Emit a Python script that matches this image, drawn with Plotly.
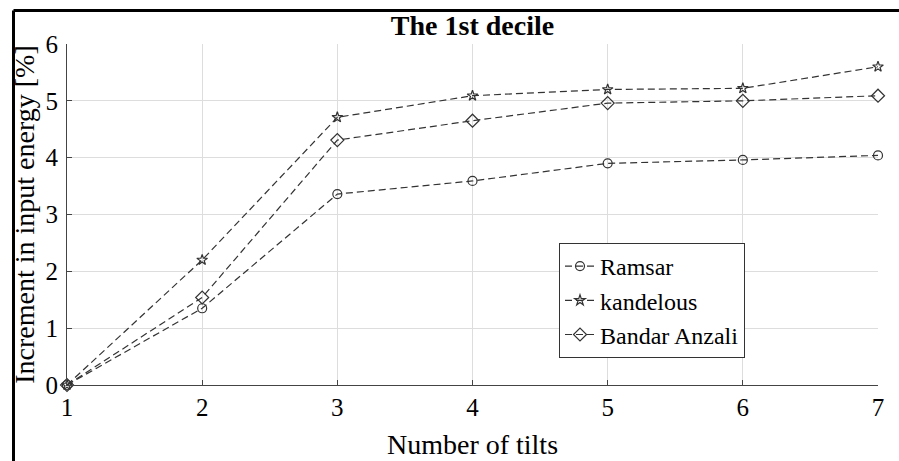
import plotly.graph_objects as go

tilts = [1, 2, 3, 4, 5, 6, 7]
ramsar = [0, 1.35, 3.36, 3.59, 3.90, 3.96, 4.04]
kandelous = [0, 2.20, 4.71, 5.09, 5.20, 5.22, 5.60]
bandar_anzali = [0, 1.54, 4.31, 4.65, 4.96, 5.00, 5.09]

SERIF = "Liberation Serif"
INK = "#333333"

series = [
    ("Ramsar", ramsar, "circle-open", 9),
    ("kandelous", kandelous, "star-open", 8),
    ("Bandar Anzali", bandar_anzali, "diamond-open", 10),
]

fig = go.Figure()
for name, vals, sym, size in series:
    fig.add_trace(go.Scatter(
        x=tilts, y=vals, name=name, mode="lines+markers",
        line=dict(color=INK, width=1.2, dash="7px,4px"),
        marker=dict(symbol=sym, size=size, color=INK, line=dict(width=1.2, color=INK)),
        cliponaxis=False,
    ))

# frame around the figure (only top and left edges show)
W, H = 899, 461
L, R, T, B = 67, 21, 44, 76
pw, ph = W - L - R, H - T - B
bx = (13.5 - L) / pw
by = 1 + (T - 10.5) / ph
fig.add_shape(type="line", xref="paper", yref="paper", x0=bx, x1=(W - L) / pw,
              y0=by, y1=by, line=dict(color="black", width=3))
fig.add_shape(type="line", xref="paper", yref="paper", x0=bx, x1=bx,
              y0=by, y1=-(B + 5) / ph, line=dict(color="black", width=3))

fig.update_layout(
    width=W, height=H,
    margin=dict(l=L, r=R, t=T, b=B),
    paper_bgcolor="white", plot_bgcolor="white",
    font=dict(family=SERIF, color="black", size=25),
    title=dict(text="<b>The 1st decile</b>", x=0.5, xref="paper", xanchor="center",
               y=1 - 25 / H, yanchor="middle", font=dict(size=28, family=SERIF)),
    showlegend=True,
    legend=dict(x=(559 - L) / pw, y=(385 - 243) / ph, xanchor="left", yanchor="top",
                bgcolor="white", bordercolor=INK, borderwidth=1,
                font=dict(size=24, family=SERIF), itemwidth=30, tracegroupgap=0),
    xaxis=dict(range=[1, 7], dtick=1, showgrid=True, gridcolor="#dddddd", gridwidth=1,
               showline=True, linecolor="#444444", linewidth=1.2,
               ticks="inside", ticklen=5, tickcolor="#444444", automargin=False,
               tickfont=dict(size=25, family=SERIF), zeroline=False,
               title=dict(text="Number of tilts", font=dict(size=28, family=SERIF), standoff=14)),
    yaxis=dict(range=[0, 6], dtick=1, showgrid=True, gridcolor="#dddddd", gridwidth=1,
               showline=True, linecolor="#444444", linewidth=1.2,
               ticks="inside", ticklen=5, tickcolor="#444444", automargin=False,
               tickfont=dict(size=25, family=SERIF), zeroline=False, ticklabelstandoff=3,
               title=dict(text="Increment in input energy [%]", font=dict(size=28, family=SERIF),
                          standoff=2)),
)

# drop the default 8px body margin so the figure sits at the page corner
fig.write_html("out.html", config={"displayModeBar": False},
               post_script="document.body.style.margin='0';")
